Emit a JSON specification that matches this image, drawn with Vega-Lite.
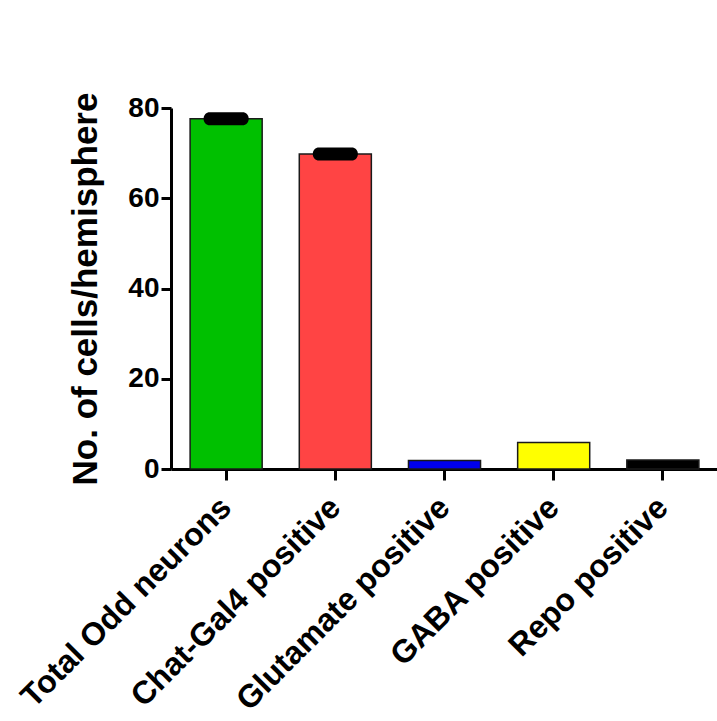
{
  "$schema": "https://vega.github.io/schema/vega-lite/v6.json",
  "autosize": "none",
  "width": 547,
  "height": 361,
  "padding": {"left": 171, "top": 108, "right": 0, "bottom": 252},
  "background": "white",
  "config": {"view": {"stroke": null}, "font": "Liberation Sans"},
  "data": {"values": [
    {"group": "Total Odd neurons", "cells": 77.6, "sem": 0.5, "color": "#00C000"},
    {"group": "Chat-Gal4 positive", "cells": 69.8, "sem": 0.5, "color": "#FF4444"},
    {"group": "Glutamate positive", "cells": 1.9, "sem": 0, "color": "#0000EE"},
    {"group": "GABA positive", "cells": 5.9, "sem": 0, "color": "#FFFF00"},
    {"group": "Repo positive", "cells": 2.0, "sem": 0, "color": "#000000"}
  ]},
  "encoding": {
    "x": {
      "field": "group", "type": "nominal", "sort": null,
      "scale": {"paddingInner": 0.34, "paddingOuter": 0.175},
      "axis": {
        "title": null, "labelAngle": -45, "labelAlign": "right", "labelBaseline": "middle",
        "labelFontSize": 32, "labelFontWeight": "bold", "labelFont": "Liberation Sans", "labelColor": "black",
        "labelPadding": 22, "tickSize": 11, "tickWidth": 3, "tickColor": "black",
        "domainColor": "black", "domainWidth": 3, "labelLimit": 0
      }
    },
    "y": {
      "field": "cells", "type": "quantitative",
      "scale": {"domain": [0, 80], "nice": false},
      "axis": {
        "title": "No. of cells/hemisphere", "titleFontSize": 35, "titleFontWeight": "bold",
        "titleFont": "Liberation Sans", "titleColor": "black", "titlePadding": 24,
        "values": [0, 20, 40, 60, 80], "grid": false,
        "labelFontSize": 28, "labelFontWeight": "bold", "labelFont": "Liberation Sans", "labelColor": "black",
        "labelPadding": 2, "tickSize": 10, "tickWidth": 3, "tickColor": "black",
        "domainColor": "black", "domainWidth": 3
      }
    }
  },
  "layer": [
    {
      "mark": {"type": "bar", "stroke": "#1a1a1a", "strokeWidth": 1.5},
      "encoding": {"color": {"field": "color", "type": "nominal", "scale": null}}
    },
    {
      "transform": [{"filter": "datum.sem > 0"}],
      "mark": {"type": "tick", "color": "black", "size": 45, "thickness": 13, "cornerRadius": 6, "opacity": 1}
    }
  ]
}
